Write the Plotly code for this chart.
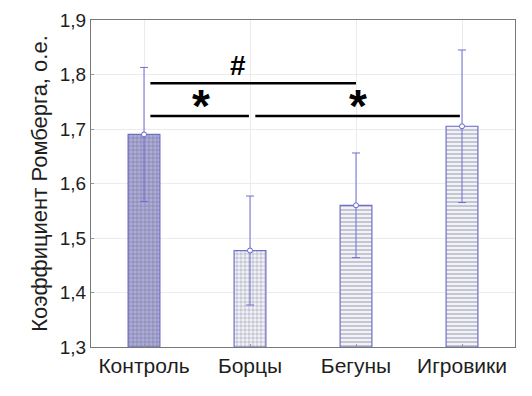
import plotly.graph_objects as go

categories = ["Контроль", "Борцы", "Бегуны", "Игровики"]
means = [1.690, 1.477, 1.560, 1.705]
errors = [0.123, 0.100, 0.096, 0.140]
y_ticks = [1.3, 1.4, 1.5, 1.6, 1.7, 1.8, 1.9]
y_ticklabels = ["1,3", "1,4", "1,5", "1,6", "1,7", "1,8", "1,9"]

xs = list(range(len(categories)))
fills = ["rgb(172,172,218)", "rgb(242,242,253)", "rgb(242,242,253)", "rgb(242,242,253)"]
pat_fg = ["rgb(140,140,200)", "rgb(212,212,244)", "rgb(218,218,246)", "rgb(218,218,246)"]
pat_shape = ["+", "+", "-", "-"]

fig = go.Figure()
fig.add_trace(go.Bar(
    x=xs, y=[m - 1.3 for m in means], base=1.3, width=0.3,
    marker=dict(color=fills, line=dict(color="rgb(110,110,200)", width=1.2),
                pattern=dict(shape=pat_shape, size=4, solidity=0.25, fgcolor=pat_fg, bgcolor=fills)),
    hoverinfo="skip", showlegend=False,
))
fig.add_trace(go.Scatter(
    x=xs, y=means, mode="markers",
    marker=dict(size=5, color="white", line=dict(color="rgb(100,100,210)", width=1)),
    error_y=dict(type="data", array=errors, color="rgb(110,110,210)", thickness=1, width=4),
    showlegend=False,
))

# significance brackets
sig_lines = [(0.06, 2.0, 1.784), (0.06, 0.99, 1.724), (1.05, 2.98, 1.724)]
for x0, x1, yv in sig_lines:
    fig.add_shape(type="line", x0=x0, x1=x1, y0=yv, y1=yv, xref="x", yref="y",
                  line=dict(color="black", width=2.5))
fig.add_annotation(x=0.89, y=1.816, text="<b>#</b>", showarrow=False,
                   font=dict(size=28, color="black", family="Liberation Sans"))
fig.add_annotation(x=0.54, y=1.742, text="<b>*</b>", showarrow=False,
                   font=dict(size=46, color="black", family="Liberation Sans"))
fig.add_annotation(x=2.02, y=1.742, text="<b>*</b>", showarrow=False,
                   font=dict(size=46, color="black", family="Liberation Sans"))

fig.update_layout(
    width=532, height=396,
    margin=dict(l=83, r=25, t=12, b=57, autoexpand=False),
    plot_bgcolor="white", paper_bgcolor="white",
    font=dict(family="Liberation Sans", color="rgb(30,30,30)"),
)
fig.update_xaxes(
    range=[-0.5, 3.5], tickmode="array", tickvals=xs, ticktext=categories,
    tickfont=dict(size=21), showgrid=True, gridcolor="rgb(235,235,235)", gridwidth=1,
    showline=True, linecolor="rgb(120,120,120)", mirror=True, linewidth=1,
    ticks="inside", ticklen=3, tickcolor="rgb(150,150,150)", zeroline=False,
    automargin=False,
)
fig.update_yaxes(
    range=[1.3, 1.9], tickmode="array", tickvals=y_ticks, ticktext=y_ticklabels,
    tickfont=dict(size=19), showgrid=True, gridcolor="rgb(235,235,235)", gridwidth=1,
    showline=True, linecolor="rgb(120,120,120)", mirror=True, linewidth=1,
    ticks="inside", ticklen=3, tickcolor="rgb(150,150,150)", zeroline=False,
    automargin=False,
    title=dict(text="Коэффициент Ромберга, о.е.", font=dict(size=22), standoff=6),
)

fig.write_html("out.html")
